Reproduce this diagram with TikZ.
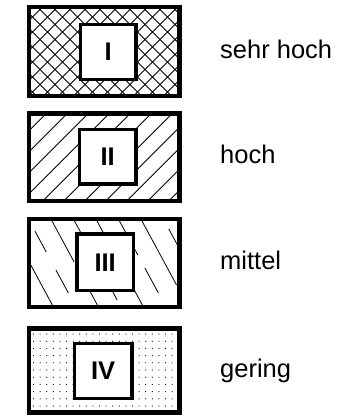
\documentclass[tikz,border=0pt]{standalone}
\usepackage{fontspec}
\setmainfont{Liberation Sans}
\newcommand\mysegm[3]{\draw[hatch] ({#1+0.54*(#2-221)},#2) -- ({#1+0.54*(#3-221)},#3);}
\begin{document}
\begin{tikzpicture}[x=1pt,y=-1pt]
\useasboundingbox (0,0) rectangle (348,416);
\tikzset{
  outerbox/.style={draw=black, line width=4.7pt, inner sep=0pt, outer sep=0pt},
  innerbox/.style={draw=black, fill=white, line width=3.3pt, inner sep=0pt,
    font=\fontsize{25.5}{30}\selectfont\bfseries},
  hatch/.style={line width=0.8pt},
  legendlabel/.style={font=\fontsize{25.5}{30}\selectfont, anchor=base west, inner sep=0pt},
}
% outer frames
\node[outerbox, minimum width=150.3pt, minimum height=88.9pt] (b1) at (104.2,51.5) {};
\node[outerbox, minimum width=150.3pt, minimum height=87.6pt] (b2) at (104.2,157.15) {};
\node[outerbox, minimum width=150.3pt, minimum height=87.9pt] (b3) at (104.2,263) {};
\node[outerbox, minimum width=150.3pt, minimum height=84.3pt] (b4) at (104.2,370.5) {};
% box 1: cross hatching
\begin{scope}
  \clip (b1.south west) rectangle (b1.north east);
  \foreach \k in {-8,...,17} {
    \draw[hatch] ({49.5+15*\k},0) -- ({49.5+15*\k-110},110);
    \draw[hatch] ({30.5+15*\k},0) -- ({30.5+15*\k+110},110);
  }
\end{scope}
% box 2: single hatching
\begin{scope}
  \clip (b2.south west) rectangle (b2.north east);
  \foreach \k in {-3,...,12} {
    \draw[hatch] ({159.8+21*\k-105},105) -- ({159.8+21*\k-215},215);
  }
\end{scope}
% box 3: broken steep hatching
\begin{scope}
  \clip (b3.south west) rectangle (b3.north east);
  \mysegm{7}{260}{312}
  \mysegm{29.5}{231}{252}
  \mysegm{29.5}{270}{293}
  \mysegm{52}{214}{262}
  \mysegm{52}{280}{312}
  \mysegm{74.5}{214}{240}
  \mysegm{74.5}{285}{300}
  \mysegm{97}{214}{240}
  \mysegm{97}{288}{312}
  \mysegm{119.5}{214}{255}
  \mysegm{119.5}{268}{293}
  \mysegm{142}{214}{285}
  \mysegm{164.5}{229}{250}
\end{scope}
% box 4: dotted
\begin{scope}
  \clip (b4.south west) rectangle (b4.north east);
  \foreach \i in {0,...,22} {
    \foreach \j in {0,...,11} {
      \fill ({33.5+6.6*\i},{334+7.2*\j}) circle (0.6);
    }
  }
\end{scope}
% redraw frames on top of the patterns
\draw[line width=4.7pt] (b1.south west) rectangle (b1.north east);
\draw[line width=4.7pt] (b2.south west) rectangle (b2.north east);
\draw[line width=4.7pt] (b3.south west) rectangle (b3.north east);
\draw[line width=4.7pt] (b4.south west) rectangle (b4.north east);
% inner squares
\node[innerbox, minimum width=55.7pt, minimum height=55pt] (i1) at (108.2,51.85) {I};
\node[innerbox, minimum width=56.7pt, minimum height=54.7pt] (i2) at (107.7,156.7) {II};
\node[innerbox, minimum width=56.4pt, minimum height=56.7pt] (i3) at (105.15,262.3) {III};
\node[innerbox, minimum width=57.7pt, minimum height=55pt] (i4) at (103.2,370.85) {IV};
% legend labels
\node[legendlabel] (l1) at (220,58) {sehr hoch};
\node[legendlabel] (l2) at (220,163.6) {hoch};
\node[legendlabel] (l3) at (220,269.5) {mittel};
\node[legendlabel] (l4) at (220,377) {gering};
\end{tikzpicture}
\end{document}
